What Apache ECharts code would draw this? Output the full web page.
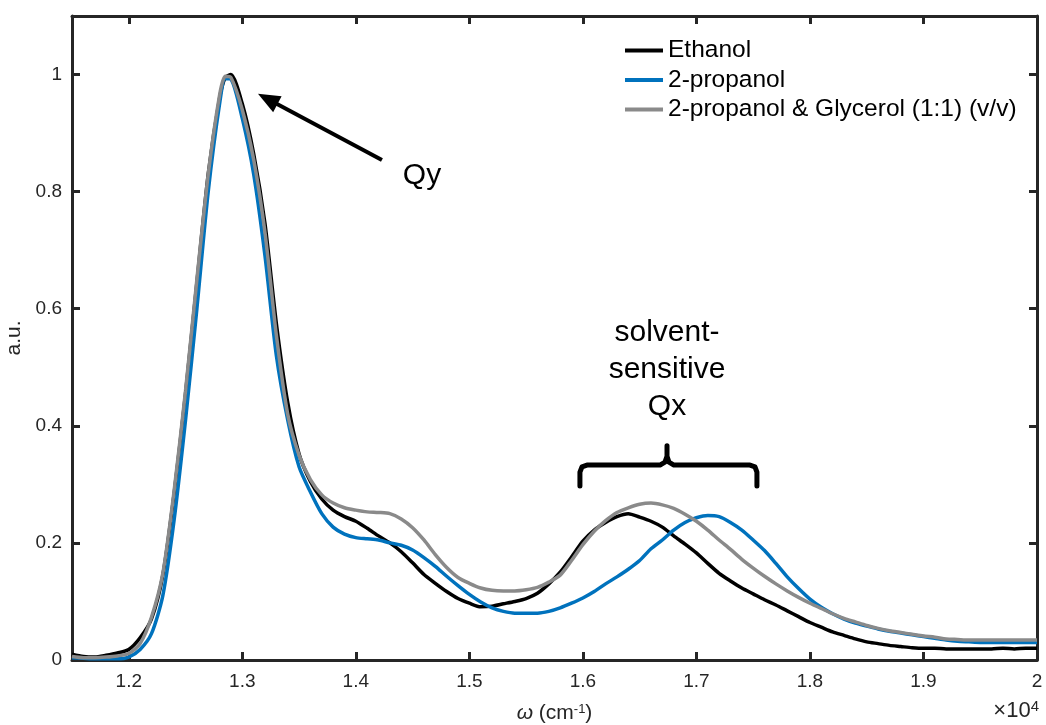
<!DOCTYPE html>
<html><head><meta charset="utf-8">
<script src="https://cdn.jsdelivr.net/npm/echarts@6/dist/echarts.min.js"></script>
<style>html,body{margin:0;padding:0;background:#fff}#c{width:1046px;height:725px}</style>
</head><body><div id="c"></div>
<script>
// ---- data (wavenumber in cm^-1, normalized absorbance) ----
const wavenumber = [11500,11600,11700,11800,11900,12000,12100,12200,12300,12400,12500,12600,12700,12800,12850,12900,
13000,13100,13200,13300,13400,13500,13600,13700,13800,13900,14000,14100,14200,14300,14400,14500,14600,14700,14800,14900,
15000,15100,15200,15300,15400,15500,15600,15700,15800,15900,16000,16100,16200,16300,16400,16500,16600,16700,16800,16900,
17000,17100,17200,17300,17400,17500,17600,17700,17800,17900,18000,18100,18200,18300,18400,18500,18600,18700,18800,18900,
19000,19100,19200,19300,19400,19500,19600,19700,19800,19900,20000];
const ethanol = [0.010,0.006,0.005,0.008,0.012,0.018,0.038,0.070,0.145,0.285,0.455,0.645,0.830,0.960,0.995,1.000,
0.950,0.865,0.745,0.575,0.440,0.352,0.305,0.275,0.256,0.245,0.237,0.225,0.212,0.200,0.185,0.166,0.146,0.131,0.117,0.105,
0.097,0.091,0.092,0.096,0.100,0.105,0.114,0.130,0.150,0.176,0.203,0.222,0.235,0.245,0.250,0.244,0.237,0.227,0.212,0.198,
0.183,0.165,0.148,0.135,0.123,0.113,0.103,0.094,0.084,0.074,0.064,0.056,0.048,0.042,0.036,0.031,0.028,0.025,0.023,0.021,
0.020,0.020,0.019,0.019,0.019,0.019,0.019,0.020,0.019,0.020,0.020];
const propanol = [0.004,0.003,0.002,0.002,0.002,0.005,0.018,0.045,0.110,0.240,0.410,0.600,0.800,0.950,0.993,0.992,
0.925,0.830,0.690,0.520,0.410,0.330,0.287,0.250,0.227,0.215,0.209,0.207,0.205,0.200,0.196,0.188,0.175,0.160,0.143,0.127,
0.112,0.099,0.089,0.083,0.080,0.080,0.080,0.083,0.089,0.097,0.106,0.117,0.130,0.142,0.155,0.170,0.190,0.205,0.222,0.235,
0.243,0.247,0.245,0.235,0.222,0.205,0.187,0.165,0.142,0.122,0.104,0.090,0.079,0.070,0.063,0.058,0.053,0.049,0.046,0.043,
0.040,0.037,0.034,0.032,0.031,0.030,0.030,0.030,0.030,0.030,0.030];
const propanolGlycerol = [0.006,0.004,0.004,0.005,0.007,0.011,0.028,0.073,0.148,0.290,0.460,0.650,0.830,0.965,0.997,0.995,
0.940,0.855,0.730,0.555,0.420,0.350,0.308,0.282,0.268,0.260,0.256,0.253,0.252,0.250,0.241,0.226,0.205,0.180,0.158,0.141,
0.131,0.123,0.119,0.118,0.118,0.120,0.124,0.133,0.145,0.170,0.197,0.220,0.238,0.252,0.260,0.266,0.268,0.265,0.259,0.249,
0.237,0.222,0.205,0.189,0.172,0.157,0.143,0.130,0.118,0.107,0.097,0.088,0.079,0.071,0.065,0.059,0.054,0.050,0.047,0.044,
0.041,0.039,0.036,0.035,0.034,0.034,0.034,0.034,0.034,0.034,0.034];
const seriesNames = ['Ethanol','2-propanol','2-propanol & Glycerol (1:1) (v/v)'];
const xTicks = [12000,13000,14000,15000,16000,17000,18000,19000,20000];
const yTicks = [0,0.2,0.4,0.6,0.8,1];
// annotations (data space)
const qyArrow = [[14230,0.854],[13138,0.967]];
const qyLabelAt = [14583,0.8275];
const qxLabelAt = [16741,0.496];
const braceX = [15974,15974,15992,16036,16679,16723,16741,16741,16741,16758,16802,17472,17516,17533,17533];
const braceY = [0.297,0.321,0.330,0.333,0.333,0.338,0.348,0.366,0.348,0.338,0.333,0.333,0.330,0.321,0.297];

const font = '"Liberation Sans", Arial, Helvetica, sans-serif';
const axisColor = '#262626';
const colors = ['#000000','#0072BD','#8a8a8a'];
const chart = echarts.init(document.getElementById('c'));
const pairs = ys => wavenumber.map((x,i)=>[x, ys[i]]);
const lineW = 3.5;

function baseAxisX(pos, showLabel){
  return {type:'value', position:pos, min:11500, max:20000,
    axisLine:{show:true, onZero:false, lineStyle:{color:axisColor, width:3}},
    axisTick:{show:true, inside:true, length:8, customValues:xTicks, lineStyle:{color:axisColor, width:3}},
    axisLabel:{show:showLabel, customValues:xTicks, margin:12, color:axisColor, fontSize:19, fontFamily:font,
      formatter:v=>String(+(v/10000).toFixed(2))},
    splitLine:{show:false}};
}
function baseAxisY(pos, showLabel){
  return {type:'value', position:pos, min:0, max:1.1,
    axisLine:{show:true, onZero:false, lineStyle:{color:axisColor, width:3}},
    axisTick:{show:true, inside:true, length:8, customValues:yTicks, lineStyle:{color:axisColor, width:3}},
    axisLabel:{show:showLabel, customValues:yTicks, margin:10, color:axisColor, fontSize:19, fontFamily:font,
      formatter:v=>String(+v.toFixed(2))},
    splitLine:{show:false}};
}
const xb = baseAxisX('bottom', true);
xb.name = '{i|ω} (cm{sup|-1})';
xb.nameLocation = 'middle';
xb.nameGap = 43;
xb.nameTextStyle = {color:axisColor, fontSize:21, fontFamily:font,
  rich:{i:{fontSize:21, fontStyle:'italic', color:axisColor, fontFamily:font},
        sup:{fontSize:13, verticalAlign:'top', color:axisColor, fontFamily:font, padding:[0,0,7,0]}}};
const yl = baseAxisY('left', true);
yl.name = 'a.u.';
yl.nameLocation = 'middle';
yl.nameGap = 36;
yl.nameTextStyle = {color:axisColor, fontSize:21, fontFamily:font};

const data = [ethanol, propanol, propanolGlycerol];
const series = data.map((d,i)=>({
  name:seriesNames[i], type:'line', xAxisIndex:0, yAxisIndex:0, data:pairs(d),
  showSymbol:false, symbol:'none', smooth:0.25, lineStyle:{color:colors[i], width:lineW}, itemStyle:{color:colors[i]},
  z:2+i, silent:true
}));
series.push({
  name:'brace', type:'line', data:braceX.map((x,i)=>[x,braceY[i]]), showSymbol:false, symbol:'none',
  lineStyle:{color:'#000', width:5, join:'round', cap:'round'}, silent:true, z:6
});

chart.setOption({
  animation:false,
  backgroundColor:'#ffffff',
  textStyle:{fontFamily:font},
  grid:{left:72, right:9, top:16, bottom:65, containLabel:false, outerBoundsMode:'none'},
  legend:{data:seriesNames, orient:'vertical', left:625, top:38, padding:0, icon:'rect', itemWidth:38, itemHeight:4,
    itemGap:4.5, textStyle:{fontSize:24.5, lineHeight:24.5, color:'#000', fontFamily:font}, selectedMode:false},
  xAxis:[xb, baseAxisX('top', false)],
  yAxis:[yl, baseAxisY('right', false)],
  series:series
});

function place(){
  const qy = chart.convertToPixel({gridIndex:0}, qyLabelAt);
  const qx = chart.convertToPixel({gridIndex:0}, qxLabelAt);
  const t = chart.convertToPixel({gridIndex:0}, qyArrow[0]);
  const h = chart.convertToPixel({gridIndex:0}, qyArrow[1]);
  const dx = h[0]-t[0], dy = h[1]-t[1], L = Math.hypot(dx,dy), ux = dx/L, uy = dy/L;
  const headLen = 22, headHalf = 9;
  const bx = h[0]-ux*headLen, by = h[1]-uy*headLen;
  chart.setOption({graphic:[
    {type:'line', silent:true, z:10, shape:{x1:t[0], y1:t[1], x2:bx+ux*2, y2:by+uy*2},
      style:{stroke:'#000', lineWidth:4}},
    {type:'polygon', silent:true, z:10, shape:{points:[[h[0],h[1]],[bx-uy*headHalf, by+ux*headHalf],[bx+uy*headHalf, by-ux*headHalf]]},
      style:{fill:'#000'}},
    {type:'text', x:qy[0], y:qy[1], silent:true,
      style:{text:'Qy', fill:'#000', font:'30px '+font, textAlign:'center', textVerticalAlign:'middle'}},
    {type:'text', x:qx[0], y:qx[1], silent:true,
      style:{text:'solvent-\nsensitive\nQx', fill:'#000', font:'30px '+font, lineHeight:37, textAlign:'center', textVerticalAlign:'middle'}},
    {type:'text', x:1039, y:723, silent:true,
      style:{text:'×10{sup|4}', fill:axisColor, fontSize:22, fontFamily:font, textAlign:'right', textVerticalAlign:'bottom',
        rich:{sup:{fontSize:15, fontFamily:font, fill:axisColor, verticalAlign:'top', padding:[0,0,9,0]}}}}
  ]});
}
place();
</script></body></html>
